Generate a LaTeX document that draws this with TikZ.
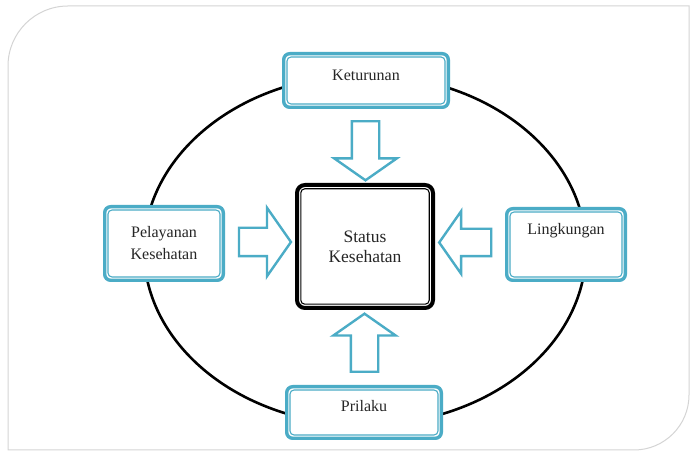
\documentclass[tikz,border=0pt]{standalone}
\usepackage{fontspec}
\setmainfont{Liberation Serif}
\usetikzlibrary{shapes.geometric,shapes.arrows,calc}
\definecolor{aqua}{HTML}{4BACC6}
\definecolor{txtgray}{HTML}{262626}
\definecolor{framegray}{HTML}{D4D4D4}

\begin{document}
\begin{tikzpicture}[x=1pt, y=1pt,
    factor/.style={draw=aqua, line width=3.4pt, rounded corners=6pt, fill=white,
                   align=center, text=txtgray, font=\fontsize{16}{22}\selectfont},
    core/.style={draw=black, line width=4pt, rounded corners=8pt, fill=white,
                 align=center, text=txtgray, font=\fontsize{17.5}{20}\selectfont,
                 minimum width=136pt, minimum height=123pt},
    innerline/.style={line width=1.1pt, rounded corners=4pt},
    blockarrow/.style={single arrow, draw=aqua, line width=2.4pt, fill=white,
                       inner sep=0pt, text height=25pt, text depth=0pt,
                       single arrow head extend=17.5pt, single arrow tip angle=110},
    ring/.style={ellipse, draw=black, line width=2.6pt, inner sep=0pt,
                 minimum width=442pt, minimum height=350pt}]

  \useasboundingbox (0,0) rectangle (691,452);

  % picture frame
  \draw[framegray, line width=1pt, fill=white] (8,2) -- (8,386)
    arc[start angle=180, end angle=90, radius=60] -- (689,446) -- (689,57)
    arc[start angle=0, end angle=-90, radius=55] -- cycle;

  % ring behind the factors
  \node[ring] (ring) at (365,202) {};

  % factors
  \node[factor, minimum width=164.6pt, minimum height=53.6pt, text depth=10pt] (ket) at (366,371.5) {Keturunan};
  \node[factor, minimum width=118.6pt, minimum height=73.6pt] (pel) at (164,208.5) {Pelayanan\\Kesehatan};
  \node[factor, minimum width=118.6pt, minimum height=71.6pt, text depth=32pt] (ling) at (566,207.5) {Lingkungan};
  \node[factor, minimum width=154.6pt, minimum height=51.6pt, text depth=14pt] (pri) at (364,39.5) {Prilaku};
  \node[core] (stat) at (365,205.5) {Status\\Kesehatan};

  \foreach \n in {ket,pel,ling,pri}
    \draw[innerline, aqua] ([shift={(5pt,5pt)}]\n.south west) rectangle ([shift={(-5pt,-5pt)}]\n.north east);
  \draw[innerline, black] ([shift={(5.8pt,5.8pt)}]stat.south west) rectangle ([shift={(-5.8pt,-5.8pt)}]stat.north east);

  % block arrows into the centre
  \node[blockarrow, minimum height=59pt, rotate=-90] (arrK) at ($(ket.south)!0.5!(stat.north)$) {};
  \node[blockarrow, minimum height=58pt, rotate=90] (arrR) at ($(pri.north)!0.5!(stat.south)$) {};
  \node[blockarrow, minimum height=52pt, text height=26pt, single arrow head extend=20pt] (arrP) at ([yshift=3pt]$(pel.east)!0.5!(stat.west)$) {};
  \node[blockarrow, minimum height=52pt, rotate=180] (arrL) at ([yshift=3pt]$(stat.east)!0.5!(ling.west)$) {};
\end{tikzpicture}
\end{document}
